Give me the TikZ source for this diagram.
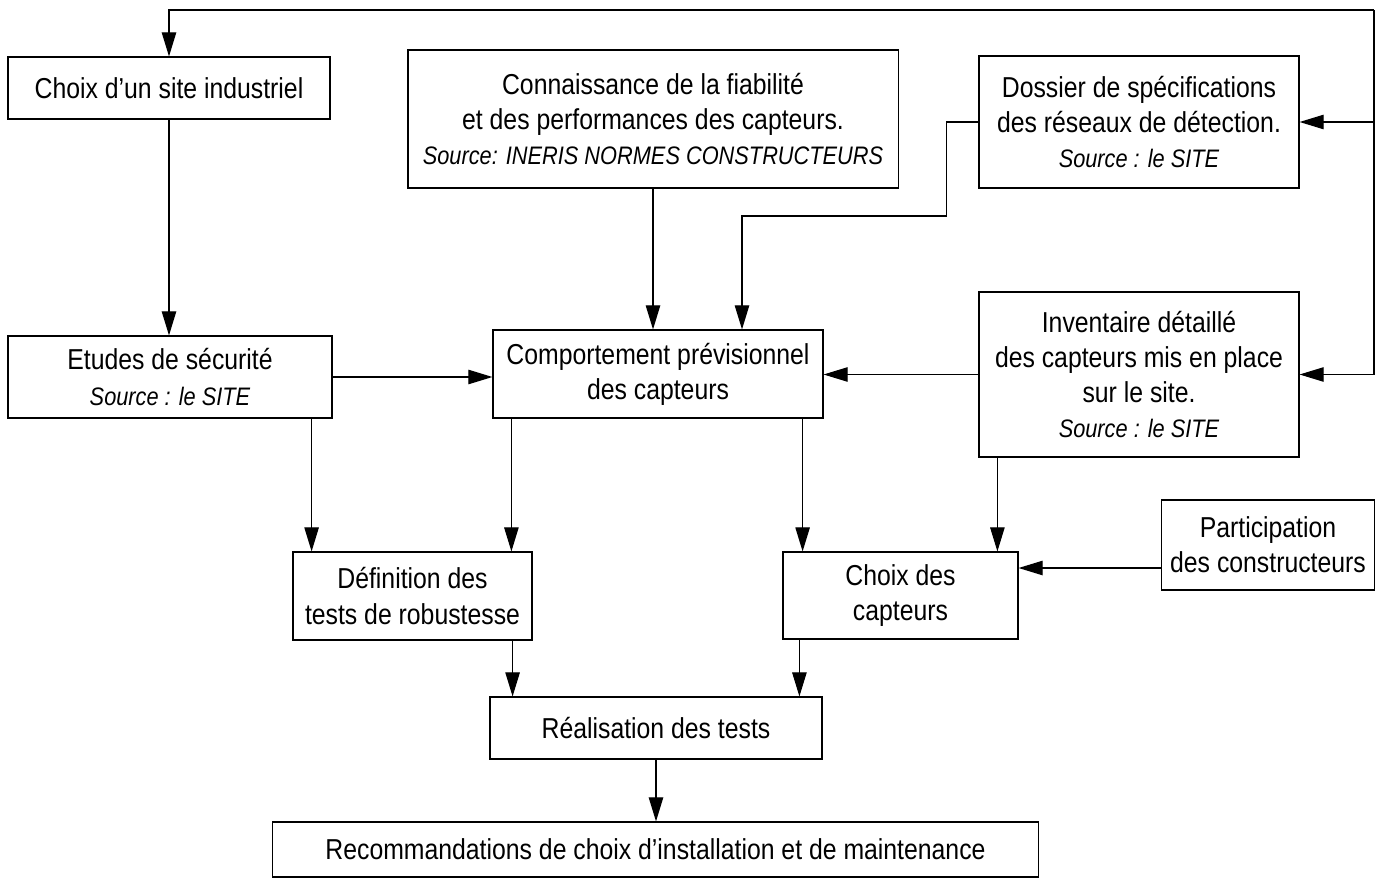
\documentclass[tikz,border=0pt]{standalone}
\usepackage{fontspec}
\setmainfont{Liberation Sans}[FakeStretch=0.86]
\usetikzlibrary{arrows.meta}
\newcommand{\src}[1]{{\fontsize{18}{25}\selectfont\itshape #1}}

\begin{document}
\begin{tikzpicture}[x=0.025cm,y=-0.025cm,line width=0.8pt,
    box/.style={draw,rectangle,align=center,inner sep=0pt,font=\fontsize{20.5}{25}\selectfont},
    arr/.style={-{Triangle[length=0.6cm,width=0.36cm]}}]
  \useasboundingbox[fill=white] (0,0) rectangle (1382,879);

  \node[box,minimum width=8.05cm,minimum height=1.55cm]   (site)  at (169,88)    {Choix d’un site industriel};
  \node[box,minimum width=12.25cm,minimum height=3.45cm]  (conn)  at (653,119)   {Connaissance de la fiabilité\\et des performances des capteurs.\\\src{Source: INERIS NORMES CONSTRUCTEURS}};
  \node[box,minimum width=8cm,minimum height=3.3cm]       (doss)  at (1139,122)  {Dossier de spécifications\\des réseaux de détection.\\\src{Source : le SITE}};
  \node[box,minimum width=8.1cm,minimum height=2.05cm]    (etud)  at (170,377)   {Etudes de sécurité\\\src{Source : le SITE}};
  \node[box,minimum width=8.25cm,minimum height=2.2cm]    (comp)  at (658,374)   {Comportement prévisionnel\\des capteurs};
  \node[box,minimum width=8cm,minimum height=4.125cm]     (inv)   at (1139,374.5) {Inventaire détaillé\\des capteurs mis en place\\sur le site.\\\src{Source : le SITE}};
  \node[box,minimum width=5.325cm,minimum height=2.25cm]  (part)  at (1268,545)  {Participation\\des constructeurs};
  \node[box,minimum width=5.975cm,minimum height=2.2cm]   (def)   at (412.5,596) {Définition des\\tests de robustesse};
  \node[box,minimum width=5.875cm,minimum height=2.175cm] (choix) at (900.5,595.5) {Choix des\\capteurs};
  \node[box,minimum width=8.3cm,minimum height=1.55cm]    (real)  at (656,728)   {Réalisation des tests};
  \node[box,minimum width=19.125cm,minimum height=1.375cm] (reco) at (655.5,849.5) {Recommandations de choix d’installation et de maintenance};

  \coordinate (top)  at (1374,10);
  \coordinate (knee) at (742,216);

  \draw[arr] (top) -| (site.north);
  \draw[arr] (top) |- (inv.east);
  \draw[arr] (top |- doss.east) -- (doss.east);
  \draw[arr] (site.south) -- (site.south |- etud.north);
  \draw[arr] (conn.south) -- (conn.south |- comp.north);
  \draw[arr] (doss.west) -- ++(-32,0) |- (knee) -- (knee |- comp.north);
  \draw[arr] (etud.east) -- (etud.east -| comp.west);
  \draw[arr] (inv.west) -- (inv.west -| comp.east);
  \draw[arr] ([xshift=-0.525cm]etud.south east) -- ([xshift=-0.525cm]etud.south east |- def.north);
  \draw[arr] ([xshift=0.475cm]comp.south west) -- ([xshift=0.475cm]comp.south west |- def.north);
  \draw[arr] ([xshift=-0.525cm]comp.south east) -- ([xshift=-0.525cm]comp.south east |- choix.north);
  \draw[arr] ([xshift=0.475cm]inv.south west) -- ([xshift=0.475cm]inv.south west |- choix.north);
  \draw[arr] ([yshift=-0.575cm]part.west) -- ([yshift=-0.575cm]part.west -| choix.east);
  \draw[arr] ([xshift=-0.5cm]def.south east) -- ([xshift=-0.5cm]def.south east |- real.north);
  \draw[arr] ([xshift=0.425cm]choix.south west) -- ([xshift=0.425cm]choix.south west |- real.north);
  \draw[arr] (real.south) -- (real.south |- reco.north);
\end{tikzpicture}
\end{document}
